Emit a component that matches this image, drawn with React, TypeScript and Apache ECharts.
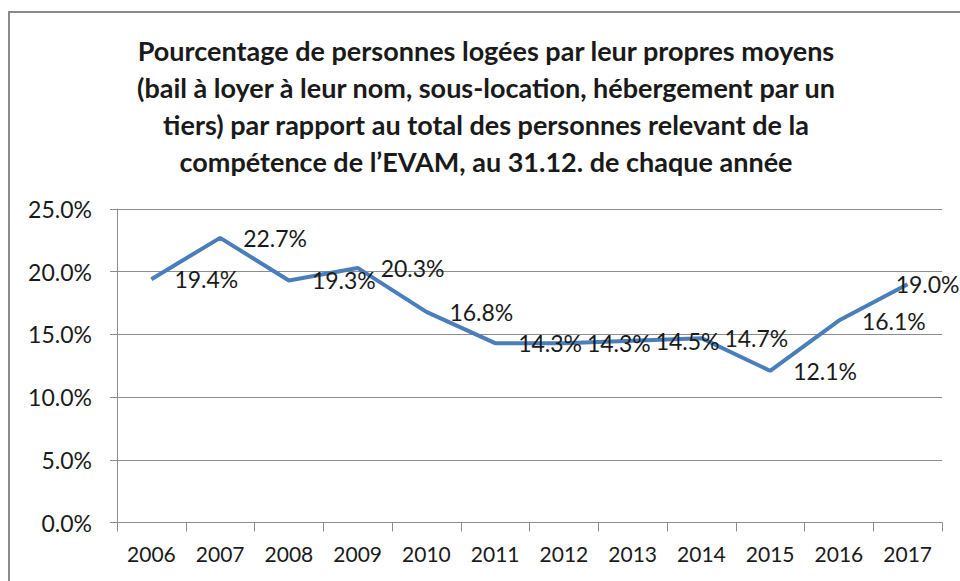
import React, { useEffect, useRef } from "react";
import * as echarts from "echarts";

const years = ["2006", "2007", "2008", "2009", "2010", "2011", "2012", "2013", "2014", "2015", "2016", "2017"];
const shares = [19.4, 22.7, 19.3, 20.3, 16.8, 14.3, 14.3, 14.5, 14.7, 12.1, 16.1, 19.0];
const titleLines = [
  "Pourcentage de personnes logées par leur propres moyens",
  "(bail à loyer à leur nom, sous-location, hébergement par un",
  "tiers) par rapport au total des personnes relevant de la",
  "compétence de l’EVAM, au 31.12. de chaque année",
];

export default function App() {
  const ref = useRef<HTMLDivElement>(null);
  useEffect(() => {
    if (!ref.current) return;
    const chart = echarts.init(ref.current, undefined, { renderer: "svg" });
    const font = "Lato, 'Open Sans', sans-serif";
    const lastIdx = shares.length - 1;
    const seriesData = shares.map((v, i) =>
      i === lastIdx ? { value: v, label: { distance: -12 } } : v
    );
    chart.setOption({
      animation: false,
      backgroundColor: "#ffffff",
      title: {
        text: titleLines.join("\n"),
        left: 481,
        top: 27,
        textAlign: "center",
        textStyle: {
          fontFamily: font,
          fontWeight: "bold",
          fontSize: 27,
          lineHeight: 37,
          color: "#1a1a1a",
        },
      },
      graphic: [
        {
          type: "rect",
          shape: { x: 9, y: 12, width: 1000, height: 700 },
          style: { fill: "none", stroke: "#8a8a8a", lineWidth: 2 },
          silent: true,
        },
      ],
      grid: { left: 117, right: 18, top: 209, bottom: 58.5 },
      xAxis: {
        type: "category",
        data: years,
        boundaryGap: true,
        axisLine: { lineStyle: { color: "#8c8c8c", width: 1 } },
        axisTick: { show: true, length: 9, lineStyle: { color: "#8c8c8c" } },
        axisLabel: { fontFamily: font, fontSize: 21, color: "#1a1a1a", margin: 20 },
      },
      yAxis: {
        type: "value",
        min: 0,
        max: 25,
        interval: 5,
        axisLine: { show: true, lineStyle: { color: "#8c8c8c", width: 1 } },
        axisTick: { show: true, length: 7, lineStyle: { color: "#8c8c8c" } },
        splitLine: { lineStyle: { color: "#8c8c8c", width: 1 } },
        axisLabel: {
          fontFamily: font,
          fontSize: 23,
          color: "#1a1a1a",
          margin: 25,
          formatter: (v: number) => v.toFixed(1) + "%",
        },
      },
      series: [
        {
          type: "line",
          data: seriesData,
          symbol: "circle",
          symbolSize: 0.1,
          showSymbol: true,
          itemStyle: { color: "#4a7ebb" },
          lineStyle: { color: "#4a7ebb", width: 4 },
          label: {
            show: true,
            position: "right",
            distance: 23,
            offset: [0, 4],
            fontFamily: font,
            fontSize: 23,
            color: "#1a1a1a",
            formatter: (p: any) => Number(p.value).toFixed(1) + "%",
          },
          labelLayout: { hideOverlap: false },
        },
      ],
    });
    return () => chart.dispose();
  }, []);
  return (
    <div
      ref={ref}
      style={{ position: "fixed", left: 0, top: 0, width: 960, height: 581 }}
    />
  );
}
